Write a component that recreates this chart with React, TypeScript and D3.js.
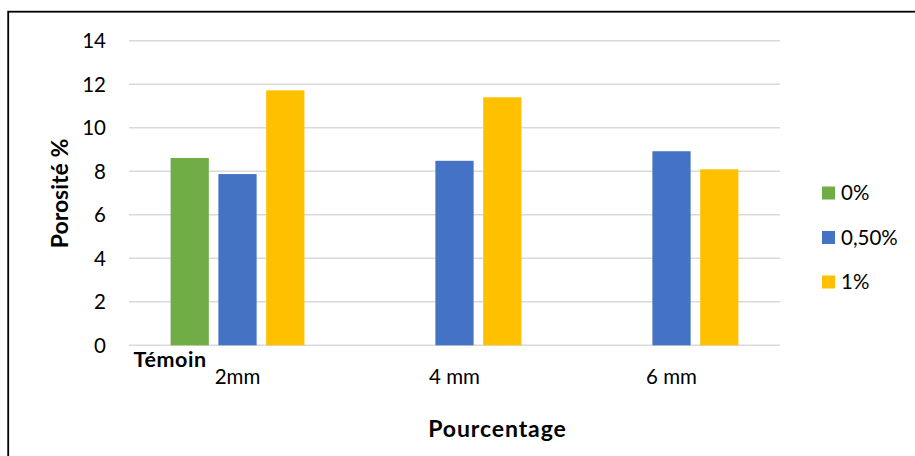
import React from "react";
import * as d3 from "d3";

// Groups along the x axis and the three series (fiber percentage)
const categories = ["2mm", "4 mm", "6 mm"];
const seriesNames = ["0%", "0,50%", "1%"];
const seriesColors = ["#70AD47", "#4472C4", "#FFC000"];
// Porosity (%) per series, one value per category; null = no bar
const values0 = [8.61, null, null];
const values050 = [7.87, 8.48, 8.92];
const values1 = [11.72, 11.4, 8.09];
const yTicks = [0, 2, 4, 6, 8, 10, 12, 14];

const W = 915;
const H = 456;
const FONT = "Lato, 'Open Sans', sans-serif";
const FS = 20.5;
const FSB = 23;

export default function App() {
  const series = [values0, values050, values1];

  const x0 = d3.scaleBand<string>().domain(categories).range([129, 780]).paddingInner(0).paddingOuter(0);
  const x1 = d3
    .scaleBand<string>()
    .domain(seriesNames)
    .range([0, x0.bandwidth()])
    .paddingInner(0.2)
    .paddingOuter(0.87);
  const y = d3.scaleLinear().domain([0, 14]).range([345.3, 40.7]);

  return (
    <svg
      width={W}
      height={H}
      style={{ position: "absolute", left: 0, top: 0, background: "#fff" }}
      fontFamily={FONT}
    >
      {/* frame */}
      <rect x={8.2} y={11.7} width={W + 20} height={H + 20} fill="none" stroke="#000" strokeWidth={1.8} />

      {/* gridlines */}
      {yTicks.map((t) => (
        <line key={t} x1={129} x2={780} y1={y(t)} y2={y(t)} stroke="#d9d9d9" strokeWidth={1.4} />
      ))}

      {/* y tick labels */}
      {yTicks.map((t) => (
        <text key={t} x={106} y={y(t)} dy="0.36em" textAnchor="end" fontSize={FS} fill="#000">
          {t}
        </text>
      ))}

      {/* bars */}
      {categories.map((c, ci) =>
        series.map((vals, si) => {
          const v = vals[ci];
          if (v == null) return null;
          return (
            <rect
              key={c + si}
              x={(x0(c) ?? 0) + (x1(seriesNames[si]) ?? 0)}
              y={y(v)}
              width={x1.bandwidth()}
              height={y(0) - y(v)}
              fill={seriesColors[si]}
            />
          );
        })
      )}

      {/* category labels */}
      {categories.map((c) => (
        <text key={c} x={(x0(c) ?? 0) + x0.bandwidth() / 2} y={384.3} textAnchor="middle" fontSize={FS} fill="#000">
          {c}
        </text>
      ))}
      <text x={133.5} y={366.7} fontSize={FSB - 1.5} fontWeight="bold" letterSpacing={0.6} fill="#000">
        Témoin
      </text>

      {/* axis titles */}
      <text
        transform={`translate(68,193.5) rotate(-90)`}
        textAnchor="middle"
        fontSize={FSB}
        fontWeight="bold"
        fill="#000"
      >
        Porosité %
      </text>
      <text
        x={497.5}
        y={436.7}
        textAnchor="middle"
        fontSize={FSB}
        fontWeight="bold"
        letterSpacing={0.9}
        fill="#000"
      >
        Pourcentage
      </text>

      {/* legend */}
      {seriesNames.map((n, i) => {
        const cy = 193 + i * 44.5;
        return (
          <g key={n}>
            <rect x={822} y={cy - 6.5} width={13} height={13} fill={seriesColors[i]} />
            <text x={841} y={cy} dy="0.36em" fontSize={FS} fill="#000">
              {n}
            </text>
          </g>
        );
      })}
    </svg>
  );
}
